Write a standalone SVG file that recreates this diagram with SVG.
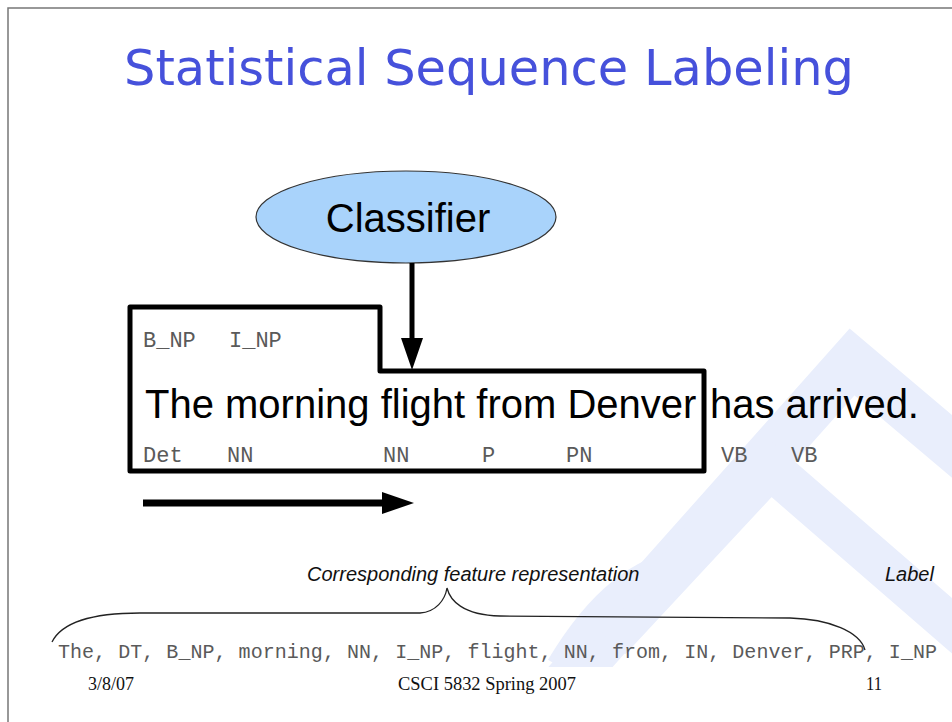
<svg xmlns="http://www.w3.org/2000/svg" width="952" height="722" viewBox="0 0 952 722">
<defs>
<style>
.title{font-family:"DejaVu Sans","Liberation Sans",sans-serif;font-size:49px;fill:#4651db}
.big{font-family:"Liberation Sans",Arial,sans-serif;font-size:40px;fill:#000}
.tag{font-family:"Liberation Mono","Courier New",monospace;font-size:22px;fill:#5a5a5a}
.feat{font-family:"Liberation Mono","Courier New",monospace;font-size:20px;fill:#5a5a5a}
.ital{font-family:"Liberation Sans",Arial,sans-serif;font-size:20px;font-style:italic;fill:#111}
.foot{font-family:"Liberation Serif","Times New Roman",serif;font-size:19px;fill:#111}
.wm{fill:none;stroke:#e9eefc;stroke-linecap:butt;stroke-linejoin:miter}
</style>
<clipPath id="wmclip"><rect x="0" y="0" width="952" height="667"/></clipPath>
</defs>
<rect x="0" y="0" width="952" height="722" fill="#fff"/>
<path d="M8,722 L8,8 L952,8" fill="none" stroke="#777" stroke-width="1.5"/>
<g id="watermark" clip-path="url(#wmclip)">
<path class="wm" d="M560,690 L852,362 L980,470" stroke-width="48"/>
<path class="wm" d="M610,640 L770,468 L980,650" stroke-width="42"/>
<path class="wm" d="M560,667 C600,600 640,570 690,560" stroke-width="28"/>
</g>
<text class="title" x="489" y="85" text-anchor="middle" textLength="730" lengthAdjust="spacingAndGlyphs">Statistical Sequence Labeling</text>
<g id="classifier">
<ellipse cx="406" cy="217" rx="150" ry="46" fill="#a9d3fb" stroke="#333" stroke-width="1.2"/>
<text class="big" x="408" y="232" text-anchor="middle">Classifier</text>
</g>
<g id="window">
<path d="M130,307 L380,307 L380,371 L704,371 L704,471 L130,471 Z" fill="none" stroke="#000" stroke-width="5" stroke-linejoin="round"/>
</g>
<g id="sentence">
<text class="tag" x="143" y="347">B_NP</text>
<text class="tag" x="229" y="347">I_NP</text>
<text class="big" x="145" y="418">The morning flight from Denver</text>
<text class="big" x="710" y="418">has arrived.</text>
<text class="tag" x="143" y="462">Det</text>
<text class="tag" x="227" y="462">NN</text>
<text class="tag" x="383" y="462">NN</text>
<text class="tag" x="482" y="462">P</text>
<text class="tag" x="566" y="462">PN</text>
<text class="tag" x="721" y="462">VB</text>
<text class="tag" x="791" y="462">VB</text>
</g>
<g id="connectors">
<line x1="412" y1="263" x2="412" y2="340" stroke="#000" stroke-width="5"/>
<polygon points="401,338 423,338 412,370" fill="#000"/>
<line x1="143" y1="503" x2="385" y2="503" stroke="#000" stroke-width="7"/>
<polygon points="382,492 382,514 414,503" fill="#000"/>
<path d="M52,642 C62,622 92,613 140,613 L420,613 C436,612 445,600 447,588 C450,600 462,615 500,616 L790,618 C830,619 860,632 865,650" fill="none" stroke="#222" stroke-width="1.3"/>
</g>
<g id="features">
<text class="ital" x="307" y="581">Corresponding feature representation</text>
<text class="ital" x="885" y="581">Label</text>
<text class="feat" x="58" y="658" textLength="879" lengthAdjust="spacing">The, DT, B_NP, morning, NN, I_NP, flight, NN, from, IN, Denver, PRP, I_NP</text>
</g>
<g id="footer">
<text class="foot" x="88" y="690" textLength="46" lengthAdjust="spacingAndGlyphs">3/8/07</text>
<text class="foot" x="398" y="690" textLength="178" lengthAdjust="spacingAndGlyphs">CSCI 5832 Spring 2007</text>
<text class="foot" x="866" y="690" textLength="16" lengthAdjust="spacingAndGlyphs">11</text>
</g>
</svg>
